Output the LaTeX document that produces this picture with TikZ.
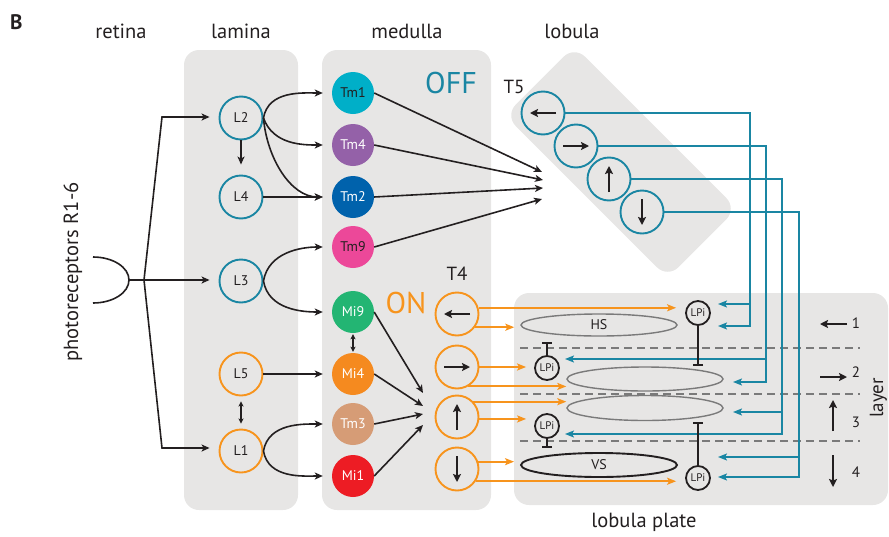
\documentclass[tikz,border=0pt]{standalone}
\usepackage{fontspec}
\setmainfont{PT Sans}
\usetikzlibrary{arrows.meta,shapes.geometric}
\definecolor{boxgray}{HTML}{E7E6E5}
\definecolor{dark}{HTML}{231F20}
\definecolor{midgray}{HTML}{7A7A7A}
\definecolor{offblue}{HTML}{1A86A3}
\definecolor{onorange}{HTML}{F7941D}
\definecolor{tmone}{HTML}{00AFC8}
\definecolor{tmfour}{HTML}{9461A8}
\definecolor{tmtwo}{HTML}{0062AC}
\definecolor{tmnine}{HTML}{EC4899}
\definecolor{minine}{HTML}{23B573}
\definecolor{mifour}{HTML}{F58A1F}
\definecolor{tmthree}{HTML}{D69C76}
\definecolor{mione}{HTML}{ED1C24}
\tikzstyle{area}=[fill=boxgray, rounded corners=15pt]
\tikzstyle{heading}=[font=\fontsize{20.5}{24}\selectfont, text=dark, inner sep=0pt]
\tikzstyle{neuron}=[circle, draw, line width=1.9pt, minimum size=43pt, inner sep=0pt, font=\fontsize{14}{16}\selectfont, text=dark]
\tikzstyle{neuronoff}=[neuron, draw=offblue]
\tikzstyle{neuronon}=[neuron, draw=onorange]
\tikzstyle{column}=[circle, minimum size=42pt, inner sep=0pt, font=\fontsize{14}{16}\selectfont, text=white]
\tikzstyle{lpi}=[circle, draw=dark, line width=1.8pt, minimum size=24pt, inner sep=0pt, font=\fontsize{11}{12}\selectfont, text=dark]
\tikzstyle{cellbody}=[ellipse, draw=midgray, line width=1.4pt, minimum width=156pt, minimum height=22pt, inner sep=0pt, font=\fontsize{14}{16}\selectfont, text=dark]
\tikzstyle{arrow}=[draw=dark, line width=1.6pt, -{Stealth[length=8pt,width=7pt,inset=2pt]}]
\tikzstyle{twoway}=[draw=dark, line width=1.5pt, {Stealth[length=5pt,width=5pt,inset=1pt]}-{Stealth[length=5pt,width=5pt,inset=1pt]}]
\tikzstyle{offwire}=[draw=offblue, line width=2pt]
\tikzstyle{offarrow}=[offwire, -{Stealth[length=9pt,width=7pt,inset=2pt]}]
\tikzstyle{onarrow}=[draw=onorange, line width=2pt, -{Stealth[length=9pt,width=7pt,inset=2pt]}]
\tikzstyle{inhib}=[draw=dark, line width=2pt, -{Bar[width=10pt]}]
\tikzstyle{dir}=[draw=dark, line width=2.3pt, -{Stealth[length=8pt,width=8pt,inset=1.5pt]}]
\tikzstyle{layerline}=[draw=midgray, line width=1.3pt, dash pattern=on 8pt off 5pt]
\begin{document}
\begin{tikzpicture}[x=1pt,y=1pt]
		\useasboundingbox (0,0) rectangle (889,-536);
		\begin{scope}
			\fill[area] (184,-50) rectangle (298,-510);
			\fill[area] (322,-50) rectangle (491,-510);
			\fill[area] (514,-293) rectangle (888,-505);
			\node[area, rotate=-45, minimum width=230pt, minimum height=98pt] (lob) at (621,-162) {};
		\end{scope}
		\begin{scope}
			\node[heading, anchor=base west, font=\fontsize{21}{24}\selectfont\bfseries] (B) at (10,-29) {B};
			\node[heading, anchor=base] (ret) at (121,-38) {retina};
			\node[heading, anchor=base] (lam) at (241,-38) {lamina};
			\node[heading, anchor=base] (med) at (407,-38) {medulla};
			\node[heading, anchor=base] (lobl) at (572,-38) {lobula};
			\node[heading, anchor=base] (lp) at (644,-527) {lobula plate};
			\node[heading, anchor=base, rotate=90] (photo) at (78,-272) {photoreceptors R1-6};
			\node[heading, anchor=base, rotate=90, font=\fontsize{19}{22}\selectfont] (layer) at (883,-398) {layer};
			\node[heading, anchor=base, text=offblue, font=\fontsize{30}{34}\selectfont] (off) at (451,-93) {OFF};
			\node[heading, anchor=base, text=onorange, font=\fontsize{30}{34}\selectfont] (on) at (406,-313) {ON};
			\node[heading, anchor=base, font=\fontsize{19}{22}\selectfont] (t5) at (514,-93) {T5};
			\node[heading, anchor=base, font=\fontsize{19}{22}\selectfont] (t4) at (457,-280) {T4};
		\end{scope}
		\begin{scope}
			\node[neuronoff] (L2) at (241,-118) {L2};
			\node[neuronoff] (L4) at (241,-197) {L4};
			\node[neuronoff] (L3) at (241,-281) {L3};
			\node[neuronon] (L5) at (241,-374) {L5};
			\node[neuronon] (L1) at (241,-451) {L1};
			\node[column, fill=tmone, text=dark] (Tm1) at (353,-93) {Tm1};
			\node[column, fill=tmfour] (Tm4) at (353,-145) {Tm4};
			\node[column, fill=tmtwo] (Tm2) at (353,-197) {Tm2};
			\node[column, fill=tmnine, text=dark] (Tm9) at (353,-247) {Tm9};
			\node[column, fill=minine] (Mi9) at (353,-312) {Mi9};
			\node[column, fill=mifour] (Mi4) at (353,-374) {Mi4};
			\node[column, fill=tmthree] (Tm3) at (353,-424) {Tm3};
			\node[column, fill=mione] (Mi1) at (353,-476) {Mi1};
			\node[neuronoff] (T5a) at (543,-113) {};
			\node[neuronoff] (T5b) at (576,-146) {};
			\node[neuronoff] (T5c) at (609,-179) {};
			\node[neuronoff] (T5d) at (642,-212) {};
			\node[neuronon] (T4a) at (457,-314) {};
			\node[neuronon] (T4b) at (457,-367) {};
			\node[neuronon] (T4c) at (457,-417) {};
			\node[neuronon] (T4d) at (457,-469) {};
		\end{scope}
		\begin{scope}
			\foreach \y in {348,394,441}
				\draw[layerline] (520,-\y) -- (860,-\y);
			\node[cellbody] (HS) at (599,-325) {HS};
			\node[cellbody, minimum height=24pt] (E2) at (645,-379) {};
			\node[cellbody, minimum height=25pt] (E3) at (645,-408) {};
			\node[cellbody, draw=dark, line width=1.9pt, minimum height=24pt] (VS) at (599,-465) {VS};
			\node[lpi] (LPi1) at (698,-313) {LPi};
			\node[lpi] (LPi2) at (547,-368) {LPi};
			\node[lpi] (LPi3) at (547,-426) {LPi};
			\node[lpi] (LPi4) at (698,-478) {LPi};
		\end{scope}
		\begin{scope}
			\draw[dark, line width=1.6pt] (93,-257) arc[start angle=90, end angle=-90, x radius=36, y radius=23];
			\coordinate (R) at (129,-280);
			\coordinate (fork) at (144,-280);
			\coordinate (kneeup) at (162,-117);
			\coordinate (kneedown) at (162,-448);
			\draw[arrow, shorten >=9pt] (R) -- (R -| L3.west);
			\draw[arrow, shorten >=9pt] (fork) -- (kneeup) -- (kneeup -| L2.west);
			\draw[arrow, shorten >=9pt] (fork) -- (kneedown) -- (kneedown -| L1.west);
			\draw[arrow, shorten >=9pt] (L2.east) to[out=80, in=180] (Tm1.west);
			\draw[arrow, shorten >=9pt] (L2.east) to[out=-70, in=180] (Tm4.west);
			\draw[arrow, shorten >=9pt] (L2.east) to[out=-85, in=180] (Tm2.west);
			\draw[arrow, shorten >=9pt] (L4.east) -- (Tm2.west);
			\draw[arrow, shorten >=9pt] (L3.east) to[out=80, in=180] (Tm9.west);
			\draw[arrow, shorten >=9pt] (L3.east) to[out=-80, in=180] (Mi9.west);
			\draw[arrow, shorten >=9pt] (L5.east) -- (Mi4.west);
			\draw[arrow, shorten >=9pt] (L1.east) to[out=80, in=180] (Tm3.west);
			\draw[arrow, shorten >=9pt] (L1.east) to[out=-80, in=180] (Mi1.west);
			\draw[arrow, shorten >=10pt] (L2.south) -- (L4.north);
			\draw[twoway, shorten <=5pt, shorten >=5pt] (L5.south) -- (L1.north);
			\draw[twoway, shorten <=1pt, shorten >=1pt] (Mi9.south) -- (Mi4.north);
		\end{scope}
		\begin{scope}
			\coordinate (t5i1) at (542,-172);
			\coordinate (t5i2) at (543,-180);
			\coordinate (t5i3) at (543,-188);
			\coordinate (t5i4) at (542,-199);
			\coordinate (t4i1) at (423,-393);
			\coordinate (t4i2) at (423,-406);
			\coordinate (t4i3) at (423,-414);
			\coordinate (t4i4) at (423,-425);
			\draw[arrow] (Tm1.east) -- (t5i1);
			\draw[arrow] (Tm4.east) -- (t5i2);
			\draw[arrow] (Tm2.east) -- (t5i3);
			\draw[arrow] (Tm9.east) -- (t5i4);
			\draw[arrow] (Mi9.east) -- (t4i1);
			\draw[arrow] (Mi4.east) -- (t4i2);
			\draw[arrow] (Tm3.east) -- (t4i3);
			\draw[arrow] (Mi1.east) -- (t4i4);
			\foreach \n/\a in {T5a/180, T5b/0, T5c/90, T5d/-90, T4a/180, T4b/0, T4c/90, T4d/-90}
				\draw[dir] ([shift={({\a+180}:13)}]\n.center) -- ([shift={(\a:13)}]\n.center);
		\end{scope}
		\begin{scope}
			\draw[onarrow, shorten >=9pt] (T4a.16) -- (T4a.16 -| LPi1.west);
			\draw[onarrow, shorten >=6pt] (T4a.-36) -- (T4a.-36 -| HS.west);
			\draw[onarrow, shorten >=8pt] (T4b.east) -- (T4b.east -| LPi2.west);
			\draw[onarrow] (T4b.-60) -- (T4b.-60 -| E2.west);
			\draw[onarrow] (T4c.43) -- (T4c.43 -| E3.west);
			\draw[onarrow, shorten >=8pt] (T4c.-5) -- (T4c.-5 -| LPi3.west);
			\draw[onarrow, shorten >=6pt] (T4d.19) -- (T4d.19 -| VS.west);
			\draw[onarrow, shorten >=9pt] (T4d.-33) -- (T4d.-33 -| LPi4.west);
		\end{scope}
		\begin{scope}
			\coordinate (c1) at (750,0);
			\coordinate (c2) at (766,0);
			\coordinate (c3) at (782,0);
			\coordinate (c4) at (799,0);
			\coordinate (p1a) at (718,-304);
			\coordinate (p1b) at (718,-326);
			\coordinate (p2a) at (565,-359);
			\coordinate (p2b) at (733,-382);
			\coordinate (p3a) at (733,-412);
			\coordinate (p3b) at (565,-434);
			\coordinate (p4a) at (718,-457);
			\coordinate (p4b) at (718,-477);
			\draw[offarrow] (T5a.east) -| (c1 |- p1b) -- (p1b);
			\draw[offarrow] (c1 |- p1a) -- (p1a);
			\draw[offarrow] (T5b.east) -| (c2 |- p2b) -- (p2b);
			\draw[offarrow] (c2 |- p2a) -- (p2a);
			\draw[offarrow] (T5c.east) -| (c3 |- p3b) -- (p3b);
			\draw[offarrow] (c3 |- p3a) -- (p3a);
			\draw[offarrow] (T5d.east) -| (c4 |- p4b) -- (p4b);
			\draw[offarrow] (c4 |- p4a) -- (p4a);
		\end{scope}
		\begin{scope}
			\coordinate (b1) at (698,-366);
			\coordinate (b2) at (547,-342);
			\coordinate (b3) at (547,-448);
			\coordinate (b4) at (698,-422);
			\draw[inhib] (LPi1) -- (b1);
			\draw[inhib] (LPi2) -- (b2);
			\draw[inhib] (LPi3) -- (b3);
			\draw[inhib] (LPi4) -- (b4);
			\draw[dir] (847,-324) -- (820,-324);
			\draw[dir] (820,-377) -- (847,-377);
			\draw[dir] (833,-431) -- (833,-400);
			\draw[dir] (833,-455) -- (833,-487);
			\node[heading, anchor=base, font=\fontsize{15}{18}\selectfont] (n1) at (856,-328) {1};
			\node[heading, anchor=base, font=\fontsize{15}{18}\selectfont] (n2) at (856,-377) {2};
			\node[heading, anchor=base, font=\fontsize{15}{18}\selectfont] (n3) at (856,-427) {3};
			\node[heading, anchor=base, font=\fontsize{15}{18}\selectfont] (n4) at (856,-477) {4};
		\end{scope}
\end{tikzpicture}
\end{document}
